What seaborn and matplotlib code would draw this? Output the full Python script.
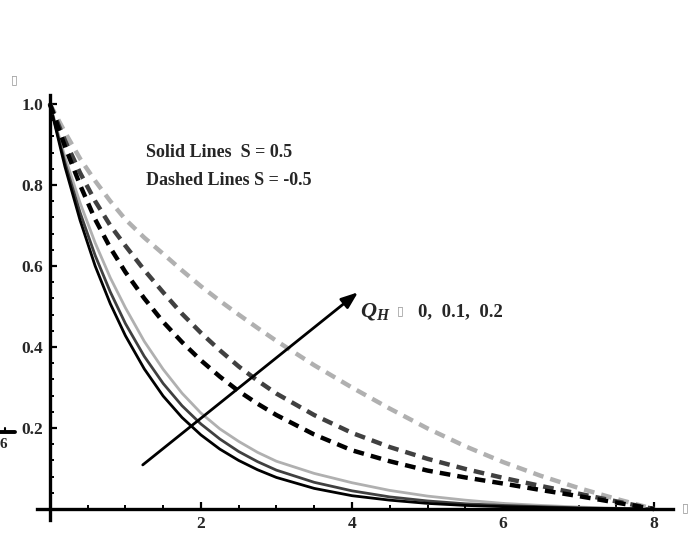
import matplotlib
matplotlib.use("Agg")
import matplotlib.pyplot as plt
from matplotlib.lines import Line2D
from matplotlib.ticker import MultipleLocator
import seaborn as sns
import pandas as pd

# similarity variable
eta = [0, 0.2, 0.4, 0.6, 0.8, 1.0, 1.25, 1.5, 1.75, 2, 2.25, 2.5, 2.75, 3,
       3.5, 4, 4.5, 5, 5.5, 6, 6.5, 7, 7.5, 8]

# solid lines, S = 0.5 (Q_H = 0, 0.1, 0.2)
solid_q0 = [1, 0.845, 0.713, 0.60, 0.507, 0.428, 0.346, 0.279, 0.226, 0.183, 0.148, 0.12,
            0.097, 0.078, 0.051, 0.033, 0.022, 0.014, 0.009, 0.006, 0.004, 0.002, 0.001, 0]
solid_q1 = [1, 0.855, 0.732, 0.626, 0.536, 0.458, 0.377, 0.31, 0.255, 0.21, 0.173, 0.142,
            0.117, 0.096, 0.066, 0.045, 0.030, 0.020, 0.013, 0.009, 0.006, 0.003, 0.001, 0]
solid_q2 = [1, 0.869, 0.756, 0.657, 0.571, 0.497, 0.414, 0.345, 0.286, 0.237, 0.198, 0.167,
            0.14, 0.118, 0.088, 0.065, 0.046, 0.032, 0.022, 0.014, 0.009, 0.005, 0.002, 0]

# dashed lines, S = -0.5 (Q_H = 0, 0.1, 0.2)
dash_q0 = [1, 0.895, 0.80, 0.715, 0.645, 0.585, 0.52, 0.462, 0.412, 0.367, 0.327, 0.291,
           0.26, 0.232, 0.184, 0.145, 0.118, 0.095, 0.078, 0.063, 0.047, 0.032, 0.016, 0]
dash_q1 = [1, 0.91, 0.83, 0.76, 0.70, 0.65, 0.59, 0.535, 0.482, 0.435, 0.392, 0.352,
           0.317, 0.285, 0.232, 0.188, 0.153, 0.124, 0.099, 0.077, 0.057, 0.038, 0.019, 0]
dash_q2 = [1, 0.93, 0.865, 0.81, 0.76, 0.715, 0.67, 0.63, 0.589, 0.55, 0.514, 0.48,
           0.447, 0.415, 0.355, 0.30, 0.248, 0.199, 0.155, 0.116, 0.082, 0.052, 0.025, 0]

q_labels = ["0", "0.1", "0.2"]
shades = ["#000000", "#404040", "#b0b0b0"]

sns.set_style("white")
plt.rcParams["font.family"] = ["Liberation Serif", "DejaVu Serif"]
plt.rcParams["mathtext.fontset"] = "custom"
plt.rcParams["mathtext.it"] = "Liberation Serif:italic:bold"
plt.rcParams["mathtext.rm"] = "Liberation Serif:bold"

fig = plt.figure(figsize=(6.94, 5.36), dpi=100)
ax = fig.add_axes([37 / 694, 16 / 536, 636 / 694, 425 / 536])

rows = []
for q, ys in zip(q_labels, [solid_q0, solid_q1, solid_q2]):
    for x, y in zip(eta, ys):
        rows.append({"eta": x, "theta": y, "QH": q, "S": "0.5"})
for q, ys in zip(q_labels, [dash_q0, dash_q1, dash_q2]):
    for x, y in zip(eta, ys):
        rows.append({"eta": x, "theta": y, "QH": q, "S": "-0.5"})
df = pd.DataFrame(rows)

palette = dict(zip(q_labels, shades))
sns.lineplot(data=df[df["S"] == "0.5"], x="eta", y="theta", hue="QH",
             palette=palette, linewidth=2.0, legend=False, ax=ax,
             hue_order=q_labels[::-1])
sns.lineplot(data=df[df["S"] == "-0.5"], x="eta", y="theta", hue="QH",
             palette=palette, linewidth=3.2, legend=False, ax=ax,
             hue_order=q_labels[::-1])
for ln in ax.lines:
    ln.set_solid_joinstyle("round")
for ln in ax.lines[3:]:
    ln.set_dashes((2.4, 1.6))

ax.set_xlim(-0.17, 8.25)
ax.set_ylim(-0.027, 1.022)
ax.set_xlabel("")
ax.set_ylabel("")

for side in ["top", "right"]:
    ax.spines[side].set_visible(False)
for side in ["left", "bottom"]:
    ax.spines[side].set_position(("data", 0))
    ax.spines[side].set_linewidth(2.4)
    ax.spines[side].set_color("black")

ax.set_xticks([2, 4, 6, 8])
ax.set_yticks([0.2, 0.4, 0.6, 0.8, 1.0])
ax.set_yticklabels(["0.2", "0.4", "0.6", "0.8", "1.0"])
ax.xaxis.set_minor_locator(MultipleLocator(0.5))
ax.yaxis.set_minor_locator(MultipleLocator(0.04))
ax.tick_params(which="major", direction="in", length=5, width=1.6, color="black",
               labelsize=12.5, pad=5)
ax.tick_params(which="minor", direction="in", length=3, width=1.4, color="black")
ax.tick_params(axis="x", which="both", bottom=True)
ax.tick_params(axis="y", which="both", left=True)
for lab in ax.get_xticklabels() + ax.get_yticklabels():
    lab.set_fontweight("bold")

# annotations
ax.text(1.27, 0.879, "Solid Lines  S = 0.5", fontsize=13, fontweight="bold",
        va="center", ha="left")
ax.text(1.27, 0.81, "Dashed Lines S = -0.5", fontsize=13, fontweight="bold",
        va="center", ha="left")

ax.annotate("", xy=(4.08, 0.535), xytext=(1.23, 0.109),
            arrowprops=dict(arrowstyle="-|>,head_length=1.0,head_width=0.38",
                            color="black", lw=2.0, shrinkA=0, shrinkB=0))
ax.text(4.1, 0.487, r"$Q_H$", fontsize=16, va="center", ha="left")
ax.text(4.64, 0.49, "\u25af", fontsize=9, va="center", ha="center", color="#999999",
        family="DejaVu Sans")
ax.text(4.87, 0.487, "0,  0.1,  0.2", fontsize=13.5, fontweight="bold",
        va="center", ha="left")

# axis label glyphs
fig.text(14 / 694, 1 - 80 / 536, "\u25af", fontsize=9, color="#999999",
         ha="center", va="center", family="DejaVu Sans")
fig.text(685 / 694, 1 - 508 / 536, "\u25af", fontsize=9, color="#999999",
         ha="center", va="center", family="DejaVu Sans")
fig.add_artist(Line2D([0 / 694, 15 / 694], [1 - 432 / 536, 1 - 432 / 536],
                      color="black", lw=2.8, transform=fig.transFigure))
fig.add_artist(Line2D([5 / 694, 5 / 694], [1 - 432 / 536, 1 - 428 / 536],
                      color="black", lw=1.5, transform=fig.transFigure))
fig.text(3 / 694, 1 - 445 / 536, "6", fontsize=11, fontweight="bold",
         ha="center", va="center")

fig.savefig("out.png", dpi=100, facecolor="white")
